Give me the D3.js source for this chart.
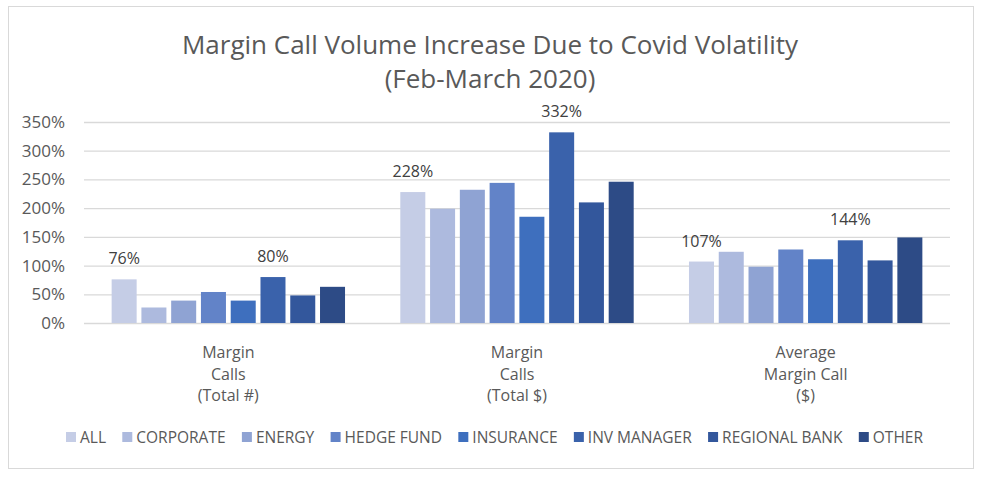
<!DOCTYPE html>
<html><head><meta charset="utf-8">
<script src="https://cdn.jsdelivr.net/npm/d3@7"></script>
<style>
html,body{margin:0;padding:0;background:#fff;}
svg text{font-family:"Open Sans","Noto Sans",sans-serif;}
</style></head>
<body>
<svg id="chart" width="981" height="477"></svg>
<script>
const categories = [["Margin","Calls","(Total #)"],["Margin","Calls","(Total $)"],["Average","Margin Call","($)"]];
const seriesNames = ["ALL","CORPORATE","ENERGY","HEDGE FUND","INSURANCE","INV MANAGER","REGIONAL BANK","OTHER"];
const seriesColors = ["#c5cde6","#adbade","#8fa3d3","#6283c8","#3e6fbe","#3a62ab","#33579c","#2d4b86"];
const ALL = [76, 228, 107];
const CORPORATE = [27, 199, 124];
const ENERGY = [39, 232, 98];
const HEDGE_FUND = [54, 244, 128];
const INSURANCE = [39, 185, 111];
const INV_MANAGER = [80, 332, 144];
const REGIONAL_BANK = [48, 210, 109];
const OTHER = [63, 246, 149];
const seriesValues = [ALL, CORPORATE, ENERGY, HEDGE_FUND, INSURANCE, INV_MANAGER, REGIONAL_BANK, OTHER];
const labeledSeries = ["ALL","INV MANAGER"];
const yTicks = [0,50,100,150,200,250,300,350];

const svg = d3.select("#chart");
// frame
svg.append("rect").attr("x",8.5).attr("y",6.5).attr("width",965).attr("height",462)
  .attr("fill","#fff").attr("stroke","#d9d9d9").attr("stroke-width",1);

// title
const title = svg.append("text").attr("text-anchor","middle").attr("fill","#595959")
  .style("font-size","26px");
title.append("tspan").attr("x",490).attr("y",54).text("Margin Call Volume Increase Due to Covid Volatility");
title.append("tspan").attr("x",490).attr("y",88).text("(Feb-March 2020)");

const x0 = d3.scaleBand().domain(d3.range(categories.length)).range([84,950])
  .paddingInner(0.175).paddingOuter(0.0875);
const x1 = d3.scaleBand().domain(seriesNames).range([0,x0.bandwidth()])
  .paddingInner(0.16).paddingOuter(0.08);
const y = d3.scaleLinear().domain([0,350]).range([323,122]);

// gridlines
const yAxis = d3.axisLeft(y).tickValues(yTicks).tickFormat(d=>d+"%").tickSize(-(950-84)).tickPadding(18);
const gy = svg.append("g").attr("transform","translate(84,0)").call(yAxis);
gy.select(".domain").remove();
gy.selectAll(".tick line").attr("stroke","#d9d9d9").attr("stroke-width",1.3);
gy.selectAll(".tick text").attr("fill","#595959").style("font-size","17px").attr("x",-19);

// bars
const groups = svg.append("g").selectAll("g").data(categories).join("g")
  .attr("transform",(d,i)=>`translate(${x0(i)},0)`);
groups.each(function(c,ci){
  const g = d3.select(this);
  seriesNames.forEach((s,si)=>{
    const v = seriesValues[si][ci];
    g.append("rect").attr("x",x1(s)).attr("width",x1.bandwidth())
      .attr("y",y(v)).attr("height",y(0)-y(v)).attr("fill",seriesColors[si]);
    if(labeledSeries.includes(s)){
      g.append("text").attr("x",x1(s)+x1.bandwidth()/2).attr("y",y(v)-15)
        .attr("text-anchor","middle").attr("fill","#404040").style("font-size","16px")
        .text(v+"%");
    }
  });
  // category labels
  const t = g.append("text").attr("text-anchor","middle").attr("fill","#595959").style("font-size","16px");
  c.forEach((line,li)=>{
    t.append("tspan").attr("x",x0.bandwidth()/2).attr("y",358+li*21.5).text(line);
  });
});

// legend
const legend = svg.append("g");
const ly = 437, lStart = 66, lEnd = 923, mk = 10, mkGap = 4;
const texts = seriesNames.map((s,si)=>legend.append("text").attr("y",ly+6).attr("fill","#595959")
    .style("font-size","15.5px").text(s));
const widths = texts.map(t=>t.node().getComputedTextLength());
const itemGap = (lEnd - lStart - d3.sum(widths) - seriesNames.length*(mk+mkGap))/(seriesNames.length-1);
let lx = lStart;
seriesNames.forEach((s,si)=>{
  legend.append("rect").attr("x",lx).attr("y",ly-5).attr("width",mk).attr("height",mk).attr("fill",seriesColors[si]);
  texts[si].attr("x",lx+mk+mkGap);
  lx += mk + mkGap + widths[si] + itemGap;
});
</script>
</body></html>
